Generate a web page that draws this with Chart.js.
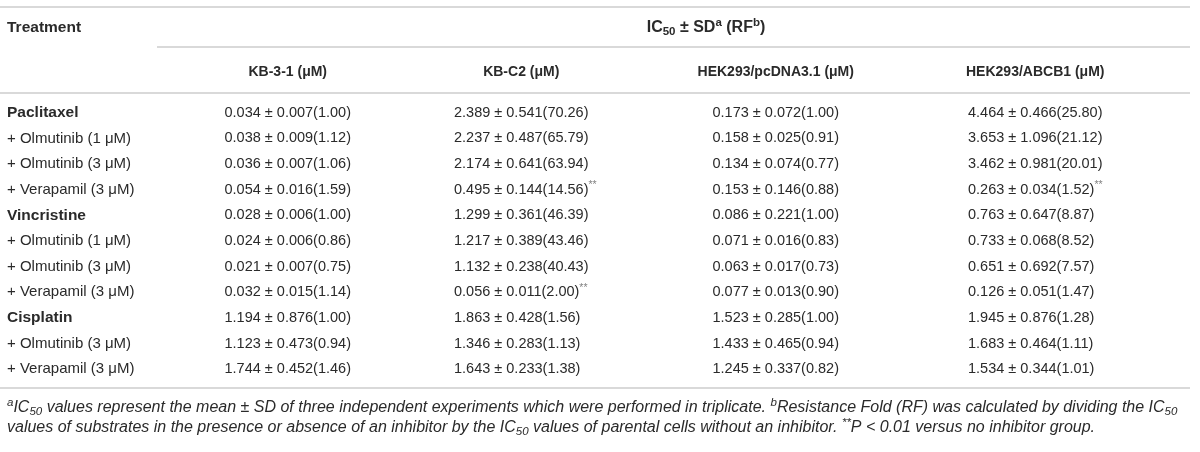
<!DOCTYPE html>
<html>
<head>
<meta charset="utf-8">
<script src="https://cdn.jsdelivr.net/npm/chart.js@4.4.1/dist/chart.umd.min.js"></script>
<style>
  html, body { margin: 0; padding: 0; background: #fff; }
  #wrap { width: 1200px; height: 452px; }
</style>
</head>
<body>
<div id="wrap"><canvas id="tbl" width="1200" height="452"></canvas></div>
<script>
// rows of the table
const treatments = [
  'Paclitaxel', '+ Olmutinib (1 μM)', '+ Olmutinib (3 μM)', '+ Verapamil (3 μM)',
  'Vincristine', '+ Olmutinib (1 μM)', '+ Olmutinib (3 μM)', '+ Verapamil (3 μM)',
  'Cisplatin', '+ Olmutinib (3 μM)', '+ Verapamil (3 μM)'
];
const drugRows = ['Paclitaxel', 'Vincristine', 'Cisplatin'];

// columns
const cellLines = ['KB-3-1', 'KB-C2', 'HEK293/pcDNA3.1', 'HEK293/ABCB1'];

// IC50 mean, SD and resistance fold per cell line
const kb31Mean = [0.034, 0.038, 0.036, 0.054, 0.028, 0.024, 0.021, 0.032, 1.194, 1.123, 1.744];
const kb31Sd   = [0.007, 0.009, 0.007, 0.016, 0.006, 0.006, 0.007, 0.015, 0.876, 0.473, 0.452];
const kb31Rf   = [1.00, 1.12, 1.06, 1.59, 1.00, 0.86, 0.75, 1.14, 1.00, 0.94, 1.46];

const kbc2Mean = [2.389, 2.237, 2.174, 0.495, 1.299, 1.217, 1.132, 0.056, 1.863, 1.346, 1.643];
const kbc2Sd   = [0.541, 0.487, 0.641, 0.144, 0.361, 0.389, 0.238, 0.011, 0.428, 0.283, 0.233];
const kbc2Rf   = [70.26, 65.79, 63.94, 14.56, 46.39, 43.46, 40.43, 2.00, 1.56, 1.13, 1.38];

const hekMean  = [0.173, 0.158, 0.134, 0.153, 0.086, 0.071, 0.063, 0.077, 1.523, 1.433, 1.245];
const hekSd    = [0.072, 0.025, 0.074, 0.146, 0.221, 0.016, 0.017, 0.013, 0.285, 0.465, 0.337];
const hekRf    = [1.00, 0.91, 0.77, 0.88, 1.00, 0.83, 0.73, 0.90, 1.00, 0.94, 0.82];

const abcbMean = [4.464, 3.653, 3.462, 0.263, 0.763, 0.733, 0.651, 0.126, 1.945, 1.683, 1.534];
const abcbSd   = [0.466, 1.096, 0.981, 0.034, 0.647, 0.068, 0.692, 0.051, 0.876, 0.464, 0.344];
const abcbRf   = [25.80, 21.12, 20.01, 1.52, 8.87, 8.52, 7.57, 1.47, 1.28, 1.11, 1.01];

// ** P < 0.01 marks
const kbc2Sig = [0, 0, 0, 1, 0, 0, 0, 1, 0, 0, 0];
const abcbSig = [0, 0, 0, 1, 0, 0, 0, 0, 0, 0, 0];
const noSig   = [0, 0, 0, 0, 0, 0, 0, 0, 0, 0, 0];

const columns = [
  { mean: kb31Mean, sd: kb31Sd, rf: kb31Rf, sig: noSig },
  { mean: kbc2Mean, sd: kbc2Sd, rf: kbc2Rf, sig: kbc2Sig },
  { mean: hekMean,  sd: hekSd,  rf: hekRf,  sig: noSig },
  { mean: abcbMean, sd: abcbSd, rf: abcbRf, sig: abcbSig }
];

// small per-column nudge, the printed table has unequal column widths
const colNudge = [7, -9, -4, 6];

const FAMILY = '"Liberation Sans", Arial, sans-serif';
const INK = '#2a2a2a';
const RULE = '#cdcdcd';

function font(size, weight, style) {
  return (style || 'normal') + ' ' + (weight || 'normal') + ' ' + size + 'px ' + FAMILY;
}

// a run of text pieces; piece = [text, 'sup' | 'sub' | undefined, colour]
function richWidth(c, pieces, size, weight, style) {
  let w = 0;
  pieces.forEach(p => {
    c.font = font(p[1] ? size * 0.72 : size, weight, style);
    w += c.measureText(p[0]).width;
  });
  return w;
}

function drawRich(c, x, y, pieces, size, weight, style, align) {
  let w = richWidth(c, pieces, size, weight, style);
  let cx = align === 'center' ? x - w / 2 : x;
  c.textAlign = 'left';
  c.textBaseline = 'middle';
  pieces.forEach(p => {
    let dy = 0;
    if (p[1] === 'sup') dy = -size * 0.3;
    if (p[1] === 'sub') dy = size * 0.25;
    c.font = font(p[1] ? size * 0.72 : size, weight, style);
    c.fillStyle = p[2] || INK;
    c.fillText(p[0], cx, y + dy);
    cx += c.measureText(p[0]).width;
  });
}

function cellText(col, i) {
  return col.mean[i].toFixed(3) + ' \u00b1 ' + col.sd[i].toFixed(3) + '(' + col.rf[i].toFixed(2) + ')';
}

function rule(c, x1, x2, y) {
  c.beginPath();
  c.moveTo(x1, y);
  c.lineTo(x2, y);
  c.stroke();
}

const tablePlugin = {
  id: 'tablePlugin',
  afterDraw(chart) {
    const c = chart.ctx;
    const xs = chart.scales.x;
    const ys = chart.scales.y;
    const right = 1190;
    c.save();

    // rules
    c.strokeStyle = RULE;
    c.lineWidth = 1.5;
    rule(c, 0, right, 7);
    rule(c, 157, right, 47);
    rule(c, 0, right, 93);
    rule(c, 0, right, 388);

    // header
    drawRich(c, 7, 28, [['Treatment']], 15.5, 'bold');
    drawRich(c, 706, 28,
      [['IC'], ['50', 'sub'], [' \u00b1 SD'], ['a', 'sup'], [' (RF'], ['b', 'sup'], [')']],
      16, 'bold', 'normal', 'center');
    cellLines.forEach((name, ci) => {
      drawRich(c, xs.getPixelForValue(ci) + colNudge[ci], 72, [[name + ' (\u03bcM)']], 14, 'bold', 'normal', 'center');
    });

    // treatment labels
    treatments.forEach((t, i) => {
      const bold = drugRows.includes(t);
      drawRich(c, 7, ys.getPixelForValue(i), [[t]], bold ? 15.5 : 15, bold ? 'bold' : 'normal');
    });

    // values, left aligned inside a centred block
    chart.data.datasets.forEach((ds, ci) => {
      const col = columns[ci];
      const meta = chart.getDatasetMeta(ci);
      c.font = font(14.5);
      let maxW = 0;
      treatments.forEach((t, i) => { maxW = Math.max(maxW, c.measureText(cellText(col, i)).width); });
      meta.data.forEach((pt, i) => {
        const pieces = [[cellText(col, i)]];
        if (col.sig[i]) pieces.push(['**', 'sup', '#808080']);
        drawRich(c, pt.x + colNudge[ci] - maxW / 2, pt.y, pieces, 14.5, 'normal');
      });
    });

    // footnotes
    drawRich(c, 7, 408, [
      ['a', 'sup'], ['IC'], ['50', 'sub'],
      [' values represent the mean \u00b1 SD of three independent experiments which were performed in triplicate. '],
      ['b', 'sup'], ['Resistance Fold (RF) was calculated by dividing the IC'], ['50', 'sub']
    ], 16, 'normal', 'italic');
    drawRich(c, 7, 428, [
      ['values of substrates in the presence or absence of an inhibitor by the IC'], ['50', 'sub'],
      [' values of parental cells without an inhibitor. '], ['**', 'sup'], ['P < 0.01 versus no inhibitor group.']
    ], 16, 'normal', 'italic');

    c.restore();
  }
};

new Chart(document.getElementById('tbl'), {
  type: 'line',
  data: {
    datasets: cellLines.map((name, ci) => ({
      label: name,
      data: treatments.map((t, i) => ({ x: name, y: t })),
      showLine: false,
      pointRadius: 0
    }))
  },
  options: {
    responsive: false,
    animation: false,
    layout: { padding: { left: 156, right: 46, top: 100, bottom: 70 } },
    plugins: { legend: { display: false }, tooltip: { enabled: false } },
    scales: {
      x: { type: 'category', labels: cellLines, offset: true, display: false },
      y: { type: 'category', labels: treatments, offset: true, display: false }
    }
  },
  plugins: [tablePlugin]
});
</script>
</body>
</html>
